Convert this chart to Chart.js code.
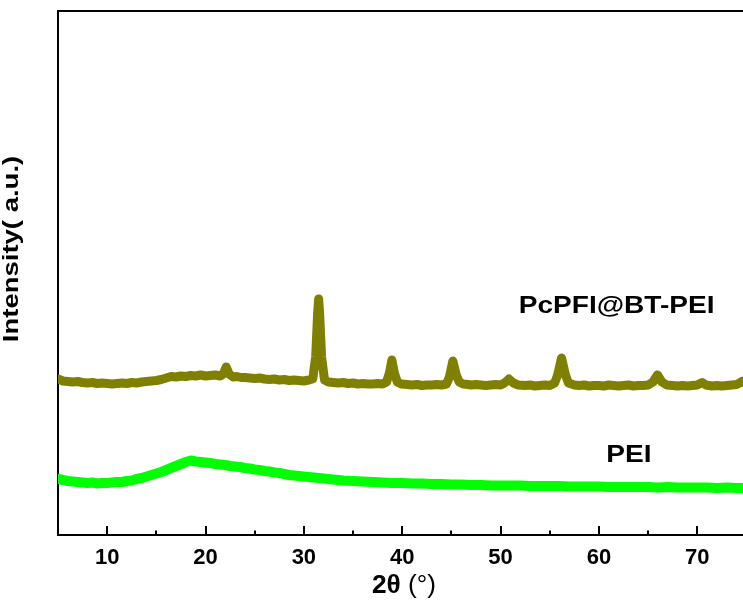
<!DOCTYPE html>
<html>
<head>
<meta charset="utf-8">
<script src="https://cdn.jsdelivr.net/npm/chart.js@4.4.1/dist/chart.umd.min.js"></script>
<style>
html,body{margin:0;padding:0;background:#fff;}
#wrap{width:743px;height:605px;}
</style>
</head>
<body>
<div id="wrap"><canvas id="c" width="743" height="605"></canvas></div>
<script>
// ---- data (2θ in degrees, intensity in a.u.) ----
const xTickValues = [10, 20, 30, 40, 50, 60, 70];
const seriesNames = ['PcPFI@BT-PEI', 'PEI'];

const pcTheta = [5,5.5,6,6.5,7,7.5,8,8.5,9,9.5,10,10.5,11,11.5,12,12.5,13,13.5,14,14.5,15,15.5,16,16.5,17,17.5,18,18.5,19,19.5,20,20.5,21,21.5,21.8,22.1,22.4,22.8,23.2,23.6,24,24.5,25,25.5,26,26.5,27,27.5,28,28.5,29,29.5,30,30.5,30.9,31.2,31.4,31.5,31.6,31.8,32.1,32.5,33,33.5,34,34.5,35,35.5,36,36.5,37,37.5,38,38.4,38.7,38.95,39.2,39.5,39.9,40.5,41,41.5,42,42.5,43,43.5,44,44.5,44.8,45.15,45.5,45.8,46.2,46.7,47,47.5,48,48.5,49,49.5,50,50.4,50.85,51.3,51.8,52.5,53,53.5,54,54.5,55,55.5,55.8,56.2,56.6,56.9,57.5,58,58.5,59,59.5,60,60.5,61,61.5,62,62.5,63,63.5,64,64.5,65,65.5,65.95,66.4,66.9,67.5,68,68.5,69,69.5,70,70.5,70.9,71.5,72,72.5,73,73.5,74,74.3,74.65];
const pcIntensity = [156,154,153.5,153,153.5,152.5,152,152.5,151.5,152,151.5,151,151.5,152,151.5,152.5,152,153,153.5,154,154.5,155.5,157,158.5,158,159,158.5,159.5,159,160,159,159.5,160,159,161,168,161,158,158.5,157.5,157.5,157,156.5,157,156,155.5,156,155,155.5,154.5,155,154.5,154,155,156,178,222,236,222,178,155,153,152.5,152,152.5,151.5,152,151,151.5,151,151,151.5,151,153,162,175,162,153,151,150.5,150,150.5,149.5,150,150,150.5,150,151,158,174,160,153,151,150.5,150,150.5,150,149.5,150,150.5,150,152,156,152,150,149.5,150,149,149.5,150,149.5,152,160,177,160,152,150,149.5,150,149,149.5,149.5,149,150,149.5,149,149.5,150,149,149.5,149.5,150,153,160,153,150,149.5,149,149.5,149,149.5,150,152.5,150,149,149.5,149,149.5,150,150.5,152,154];

const peiTheta = [5,5.5,6,6.5,7,7.5,8,8.5,9,9.5,10,10.5,11,11.5,12,12.5,13,13.5,14,14.5,15,15.5,16,16.5,17,17.5,18,18.5,19,19.5,20,20.5,21,21.5,22,22.5,23,23.5,24,24.5,25,25.5,26,26.5,27,27.5,28,28.5,29,29.5,30,31,32,33,34,35,36,37,38,39,40,41,42,43,44,45,46,47,48,49,50,51,52,53,54,55,56,57,58,59,60,61,62,63,64,65,66,67,68,69,70,71,72,73,74,74.65];
const peiIntensity = [56,55,54,53.5,53,52.5,52,52.5,51.5,52,52,52.5,53,53,54,54.5,56,57,58.5,60,61.5,63,65,67,69,71,73,74.5,73.5,73,72.5,72,71,70.5,70,69,68.5,68,67,66.5,65.5,65,64,63.5,62.5,62,61,60,59.5,59,58.5,57.5,56.5,55.5,54.5,54,53.5,53,52.5,52,52,51.5,51.5,51,51,50.5,50.5,50,50,49.5,49.5,49.5,49.5,49,49,49,49,48.5,48.5,48.5,48.5,48,48,48,48,48,47.5,48,47.5,47.5,47.5,47.5,47,47.5,47,47];

// ---- styling ----
const FONT = "'Liberation Sans', Arial, sans-serif";
const OLIVE = '#808000';
const LIME = '#00ff00';

const toPts = (xs, ys) => xs.map((x, i) => ({x: x, y: ys[i]}));

const innerTicks = {
  id: 'innerTicks',
  afterDatasetsDraw(chart) {
    const ctx = chart.ctx, xs = chart.scales.x, a = chart.chartArea;
    ctx.save();
    ctx.strokeStyle = '#000';
    ctx.lineWidth = 2;
    for (let v = 10; v <= 70; v += 5) {
      const px = Math.round(xs.getPixelForValue(v));
      const len = (v % 10 === 0) ? 9 : 4.5;
      ctx.beginPath();
      ctx.moveTo(px, a.bottom);
      ctx.lineTo(px, a.bottom - len);
      ctx.stroke();
    }
    ctx.restore();
  }
};

const labelsPlugin = {
  id: 'labelsPlugin',
  afterDraw(chart) {
    const ctx = chart.ctx, xs = chart.scales.x, ys = chart.scales.y;
    ctx.save();
    ctx.fillStyle = '#000';
    ctx.textBaseline = 'middle';
    ctx.textAlign = 'center';
    const drawStretched = (txt, x, y, sx) => {
      ctx.save();
      ctx.translate(x, y);
      ctx.scale(sx, 1);
      ctx.fillText(txt, 0, 0);
      ctx.restore();
    };
    // series labels
    ctx.font = 'bold 24px ' + FONT;
    drawStretched(seriesNames[0], xs.getPixelForValue(61.8), ys.getPixelForValue(229), 1.17);
    drawStretched(seriesNames[1], xs.getPixelForValue(63.05), ys.getPixelForValue(80), 1.17);
    // y title
    ctx.save();
    ctx.translate(12, 249);
    ctx.rotate(-Math.PI / 2);
    ctx.scale(1.25, 1);
    ctx.font = 'bold 22px ' + FONT;
    ctx.fillText('Intensity( a.u.)', 0, 0);
    ctx.restore();
    // x title: bold "2θ" + regular " (°)"
    ctx.save();
    const bPart = '2θ', rPart = ' (°)';
    ctx.font = 'bold 25px ' + FONT;
    const wb = ctx.measureText(bPart).width;
    ctx.font = '25px ' + FONT;
    const wr = ctx.measureText(rPart).width;
    ctx.translate(404, 586);
    ctx.scale(1.05, 1);
    const start = -(wb + wr) / 2;
    ctx.textAlign = 'left';
    ctx.font = 'bold 25px ' + FONT;
    ctx.fillText(bPart, start, 0);
    ctx.font = '25px ' + FONT;
    ctx.fillText(rPart, start + wb, 0);
    ctx.restore();
    ctx.restore();
  }
};

new Chart(document.getElementById('c'), {
  type: 'line',
  data: {
    datasets: [
      {label: seriesNames[0], data: toPts(pcTheta, pcIntensity), borderColor: OLIVE, borderWidth: 9,
       pointRadius: 0, tension: 0, borderJoinStyle: 'round', borderCapStyle: 'round', fill: false},
      {label: seriesNames[1], data: toPts(peiTheta, peiIntensity), borderColor: LIME, borderWidth: 10,
       pointRadius: 0, tension: 0, borderJoinStyle: 'round', borderCapStyle: 'round', fill: false}
    ]
  },
  options: {
    responsive: false,
    animation: false,
    devicePixelRatio: 1,
    layout: {padding: 0},
    plugins: {legend: {display: false}, tooltip: {enabled: false}},
    scales: {
      x: {
        type: 'linear', position: 'bottom', min: 5, max: 74.65,
        afterFit: s => { s.height = 70; },
        afterBuildTicks: s => { s.ticks = xTickValues.map(v => ({value: v})); },
        grid: {display: false, drawTicks: false},
        border: {display: true, color: '#000', width: 2},
        ticks: {color: '#000', padding: 10, maxRotation: 0, autoSkip: false,
                font: {family: FONT, size: 22, weight: 'bold'}}
      },
      x2: {
        type: 'linear', position: 'top', min: 5, max: 74.65,
        afterFit: s => { s.height = 11; },
        grid: {display: false, drawTicks: false},
        border: {display: true, color: '#000', width: 2},
        ticks: {display: false}
      },
      y: {
        type: 'linear', min: 0, max: 524,
        afterFit: s => { s.width = 58; },
        grid: {display: false, drawTicks: false},
        border: {display: true, color: '#000', width: 2},
        ticks: {display: false}
      }
    }
  },
  plugins: [innerTicks, labelsPlugin]
});
</script>
</body>
</html>
